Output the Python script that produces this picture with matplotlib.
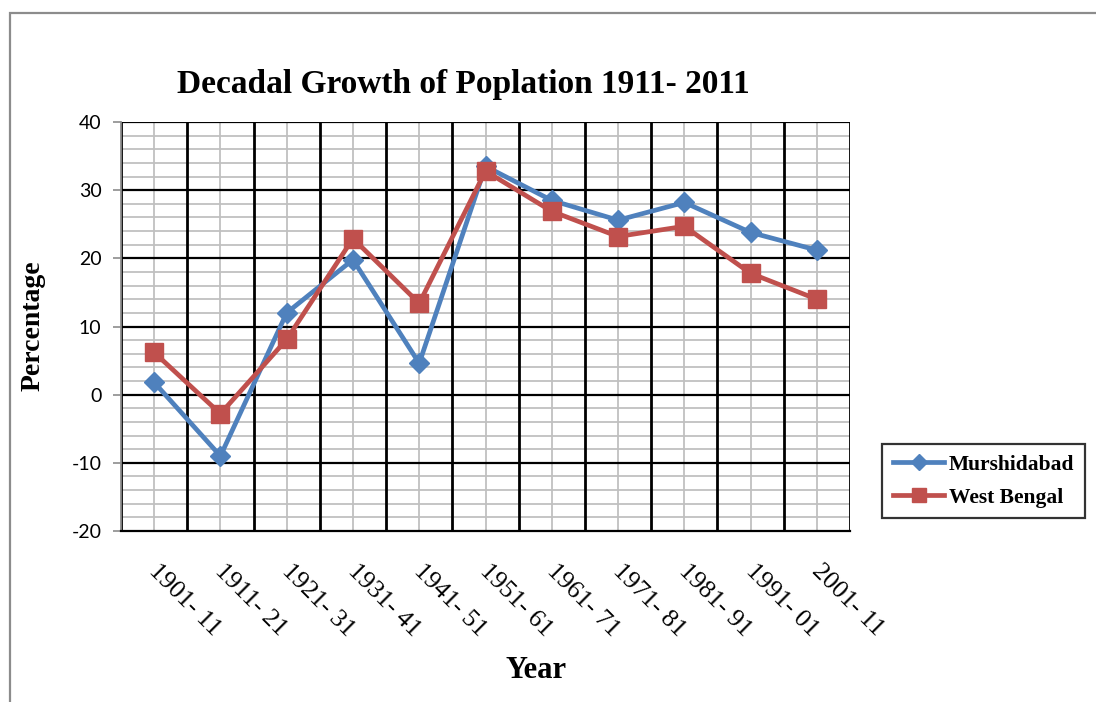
import matplotlib
matplotlib.use("Agg")
import matplotlib.pyplot as plt
import matplotlib.transforms as mtransforms
from matplotlib.patches import Rectangle
from matplotlib.ticker import MultipleLocator

plt.rcParams["axes.unicode_minus"] = False

# Decadal growth (%) per census decade
periods = ["1901- 11", "1911- 21", "1921- 31", "1931- 41", "1941- 51", "1951- 61",
           "1961- 71", "1971- 81", "1981- 91", "1991- 01", "2001- 11"]
murshidabad = [1.8, -9.0, 12.0, 19.8, 4.6, 33.5, 28.5, 25.6, 28.2, 23.8, 21.2]
west_bengal = [6.2, -2.8, 8.1, 22.9, 13.4, 32.8, 26.9, 23.2, 24.7, 17.8, 14.0]

BLUE = "#4F81BD"
RED = "#C0504D"
SERIF = "Liberation Serif"
SANS = "Lato"

fig = plt.figure(figsize=(10.96, 7.02), dpi=100)
fig.patch.set_facecolor("white")

# outer chart frame
fig.add_artist(Rectangle((10 / 1096, -0.05), 1.2, (702 - 13) / 702 + 0.05,
                         transform=fig.transFigure, fill=False,
                         edgecolor="#8c8c8c", linewidth=1.6))

ax = fig.add_axes([121 / 1096, 1 - 531 / 702, (850 - 121) / 1096, (531 - 122) / 702])

n = len(periods)
x = list(range(n))
ax.set_xlim(-0.5, n - 0.5)
ax.set_ylim(-20, 40)

# grid: gray minor lines, black major lines
for i in range(n):
    ax.axvline(i, color="#c0c0c0", lw=1.3, zorder=1)
for i in range(n + 1):
    ax.axvline(i - 0.5, color="black", lw=2.0, zorder=2)
for v in range(-20, 41, 2):
    if v % 10:
        ax.axhline(v, color="#c0c0c0", lw=1.3, zorder=1)
for v in range(-10, 41, 10):
    ax.axhline(v, color="black", lw=1.6, zorder=2)

ax.plot(x, murshidabad, color=BLUE, lw=3.4, marker="D", markersize=10.5,
        label="Murshidabad", zorder=4)
ax.plot(x, west_bengal, color=RED, lw=3.4, marker="s", markersize=13,
        label="West Bengal", zorder=5)

for side in ("top", "right"):
    ax.spines[side].set_visible(False)
ax.spines["left"].set_color("#8c8c8c")
ax.spines["left"].set_linewidth(1.3)
ax.spines["bottom"].set_color("black")
ax.spines["bottom"].set_linewidth(1.6)

ax.yaxis.set_major_locator(MultipleLocator(10))
ax.tick_params(axis="y", length=6, width=1.2, color="#8c8c8c", pad=8,
               labelsize=14)
for lab in ax.get_yticklabels():
    lab.set_fontfamily(SANS)

ax.set_xticks(x)
ax.set_xticklabels(periods, rotation=-45, ha="left", va="top",
                   rotation_mode="anchor", fontfamily=SERIF, fontsize=18.5)
ax.tick_params(axis="x", length=0, pad=21)
offset = mtransforms.ScaledTranslation(6 / 100, 0, fig.dpi_scale_trans)
for lab in ax.get_xticklabels():
    lab.set_transform(lab.get_transform() + offset)

fig.text(463 / 1096, 1 - 85 / 702, "Decadal Growth of Poplation 1911- 2011",
         ha="center", va="center", fontfamily=SERIF, fontweight="bold",
         fontsize=24)
fig.text(33 / 1096, 1 - 326 / 702, "Percentage", rotation=90, ha="center",
         va="center", fontfamily=SERIF, fontweight="bold", fontsize=20)
fig.text(536 / 1096, 1 - 670 / 702, "Year", ha="center", va="center",
         fontfamily=SERIF, fontweight="bold", fontsize=22)

leg = fig.legend(loc="center", bbox_to_anchor=(983.5 / 1096, 1 - 481 / 702),
                 prop={"family": SERIF, "weight": "bold", "size": 15.5},
                 frameon=True, fancybox=False, edgecolor="black",
                 handlelength=2.4, handletextpad=0.2, borderpad=0.5,
                 borderaxespad=0, labelspacing=0.6, markerscale=0.75)
leg.get_frame().set_linewidth(1.6)

fig.savefig("out.png", dpi=100, facecolor="white")
